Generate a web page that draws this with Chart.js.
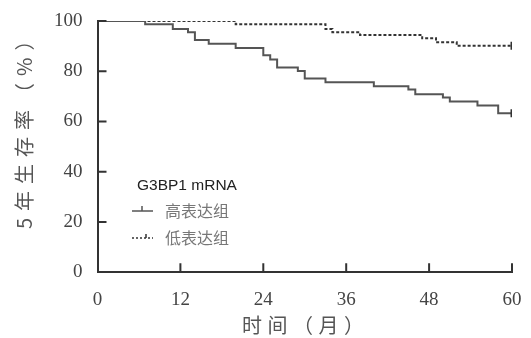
<!DOCTYPE html>
<html>
<head>
<meta charset="utf-8">
<script src="https://cdn.jsdelivr.net/npm/chart.js@4"></script>
<style>
  body { margin: 0; background: #fff; }
</style>
</head>
<body>
<canvas id="km" width="531" height="338"></canvas>
<script>
// 高表达组
var highMonths = [0, 6.9, 10.9, 13.1, 14.1, 16.1, 20, 24, 25, 26, 29, 30, 33, 40, 45, 46, 50, 51, 55, 58, 60];
var highSurv   = [100, 98.7, 96.8, 95.5, 92.4, 90.9, 89.3, 86.4, 84.7, 81.5, 80.1, 77.1, 75.6, 74.0, 72.7, 70.8, 69.5, 68.0, 66.4, 63.3, 63.3];
// 低表达组
var lowMonths = [0, 20, 33, 34, 38, 47, 49, 52, 60];
var lowSurv   = [100, 98.7, 96.8, 95.5, 94.4, 93.1, 91.5, 90.1, 90.1];

var xTicks = [0, 12, 24, 36, 48, 60];
var yTicks = [0, 20, 40, 60, 80, 100];

function toPoints(xs, ys) {
  return xs.map(function (x, i) { return {x: x, y: ys[i]}; });
}
function endTick(n) {
  return Array.from({length: n}, function (_, i) { return i === n - 1 ? 4 : 0; });
}

// ticks pointing into the plot, axis titles (spaced) and the legend
var decor = {
  id: "decor",
  afterDraw: function (chart) {
    var ctx = chart.ctx;
    var xs = chart.scales.x, ys = chart.scales.y;
    ctx.save();
    ctx.strokeStyle = "#333";
    ctx.lineWidth = 2;
    ctx.beginPath();
    xTicks.forEach(function (t) {
      if (t === 0) return;
      var px = xs.getPixelForValue(t);
      ctx.moveTo(px, ys.bottom);
      ctx.lineTo(px, ys.bottom - 9);
    });
    yTicks.forEach(function (t) {
      if (t === 0) return;
      var py = ys.getPixelForValue(t);
      ctx.moveTo(xs.left, py);
      ctx.lineTo(xs.left + 9, py);
    });
    ctx.stroke();

    // axis titles
    ctx.fillStyle = "#555";
    ctx.font = "20px 'Noto Sans CJK SC', sans-serif";
    ctx.textAlign = "left";
    ctx.textBaseline = "middle";
    ctx.letterSpacing = "5.5px";
    ctx.fillText("时间（月）", 242, 325);
    ctx.save();
    ctx.translate(24, 0);
    ctx.rotate(-Math.PI / 2);
    ctx.letterSpacing = "7px";
    ctx.fillText("5年生存率（%）", -229, 0);
    ctx.restore();
    ctx.letterSpacing = "0px";

    // legend
    ctx.fillStyle = "#222";
    ctx.font = "15.5px 'Liberation Sans', Arial, sans-serif";
    ctx.fillText("G3BP1 mRNA", 137, 186);

    ctx.strokeStyle = "#555";
    ctx.lineWidth = 1.5;
    ctx.beginPath();
    ctx.moveTo(132, 211); ctx.lineTo(153, 211);
    ctx.moveTo(142, 211); ctx.lineTo(142, 206);
    ctx.stroke();

    ctx.strokeStyle = "#333";
    ctx.setLineDash([2, 2]);
    ctx.beginPath();
    ctx.moveTo(132, 238); ctx.lineTo(153, 238);
    ctx.stroke();
    ctx.setLineDash([]);
    ctx.beginPath();
    ctx.moveTo(146, 238); ctx.lineTo(146, 234);
    ctx.stroke();

    ctx.fillStyle = "#777";
    ctx.font = "16px 'Noto Sans CJK SC', sans-serif";
    ctx.fillText("高表达组", 165, 211);
    ctx.fillText("低表达组", 165, 238);
    ctx.restore();
  }
};

new Chart("km", {
  type: "line",
  data: {
    datasets: [{
      label: "高表达组",
      data: toPoints(highMonths, highSurv),
      stepped: true,
      borderColor: "#555",
      borderWidth: 2,
      pointStyle: "line",
      rotation: 90,
      pointRadius: endTick(highMonths.length),
      pointBorderWidth: 3,
      pointBorderColor: "#333"
    }, {
      label: "低表达组",
      data: toPoints(lowMonths, lowSurv),
      stepped: true,
      borderColor: "#333",
      borderWidth: 2,
      borderDash: [3, 2],
      pointStyle: "line",
      rotation: 90,
      pointRadius: endTick(lowMonths.length),
      pointBorderWidth: 3,
      pointBorderColor: "#333"
    }]
  },
  plugins: [decor],
  options: {
    responsive: false,
    animation: false,
    layout: {padding: {top: 0, right: 0, left: 39, bottom: 11}},
    plugins: {
      legend: {display: false},
      tooltip: {enabled: false}
    },
    scales: {
      x: {
        type: "linear",
        min: 0,
        max: 60,
        afterBuildTicks: function (s) { s.ticks = xTicks.map(function (v) { return {value: v}; }); },
        afterFit: function (s) { s.paddingRight = 19; },
        grid: {display: false, drawTicks: false},
        border: {color: "#333", width: 2},
        ticks: {
          padding: 16,
          color: "#444",
          font: {family: "'Liberation Serif', serif", size: 19}
        }
      },
      y: {
        min: 0,
        max: 100,
        afterBuildTicks: function (s) { s.ticks = yTicks.map(function (v) { return {value: v}; }); },
        afterFit: function (s) { s.paddingTop = 21; },
        grid: {display: false, drawTicks: false},
        border: {color: "#333", width: 2},
        ticks: {
          padding: 15,
          color: "#444",
          font: {family: "'Liberation Serif', serif", size: 19}
        }
      }
    }
  }
});
</script>
</body>
</html>
